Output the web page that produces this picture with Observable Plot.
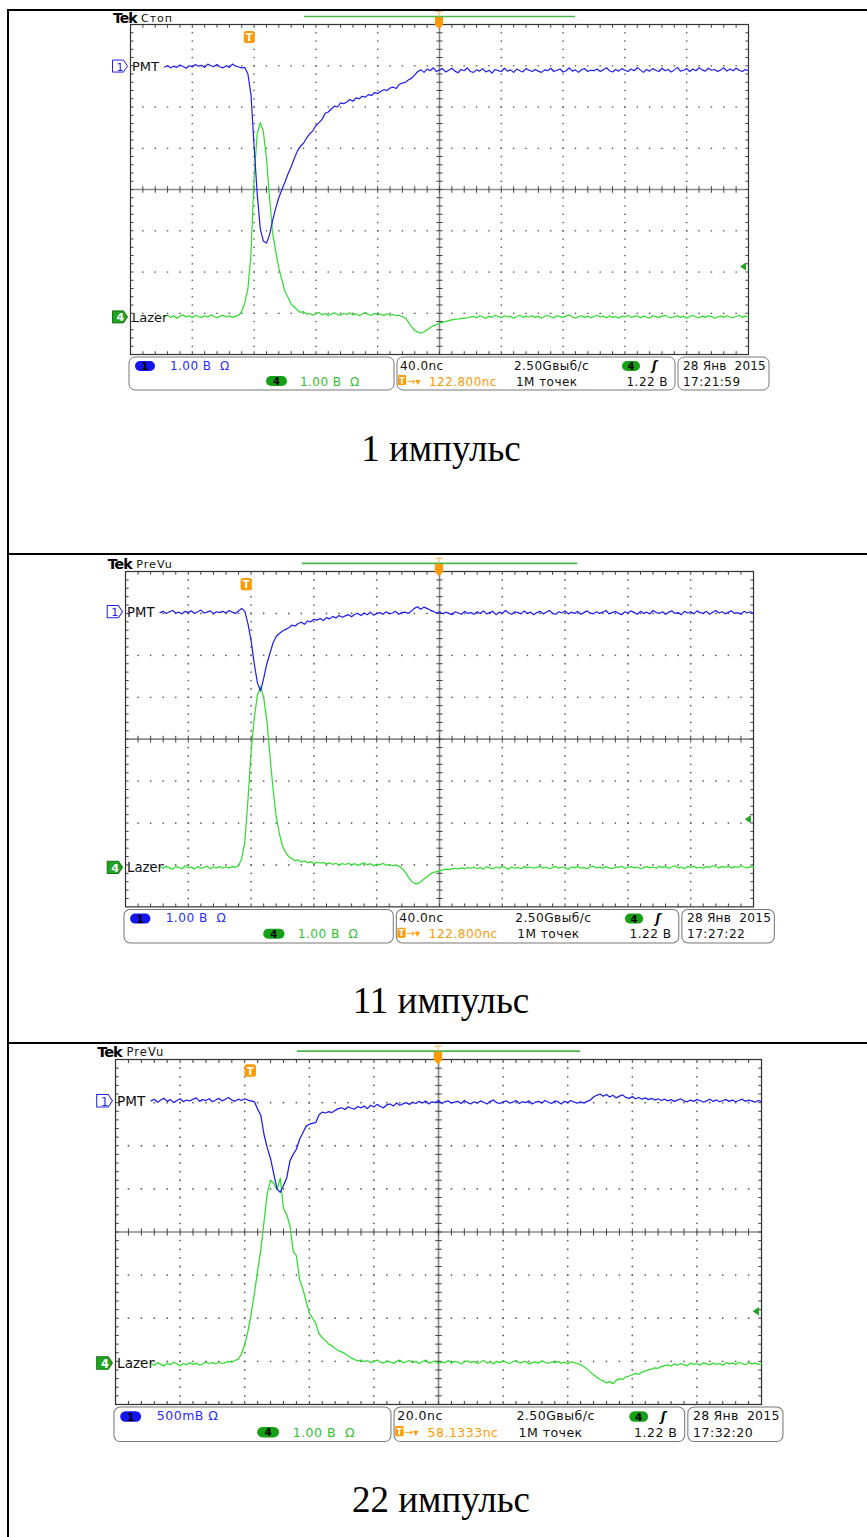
<!DOCTYPE html>
<html><head><meta charset="utf-8">
<script src="https://cdn.jsdelivr.net/npm/d3@7"></script>
<script src="https://cdn.jsdelivr.net/npm/@observablehq/plot@0.6"></script>
<style>
body{margin:0;background:#fff;}
#page{position:relative;width:867px;height:1537px;overflow:hidden;background:#fff;}
.ln{position:absolute;background:#000;}
.cap{position:absolute;left:0;width:882px;text-align:center;font-family:"Liberation Serif","Times New Roman",serif;font-size:37px;line-height:37px;color:#000;}
.scope{position:absolute;width:618px;height:330px;transform-origin:0 0;}
.scope svg{display:block;}
.scope text{white-space:pre;}
</style></head><body><div id="page"></div>
<script>
// ---------- sampled traces (divisions), x = traceStart + i*traceStep ----------
const traceStart = 0.55, traceStep = 0.05;

const pmt1 = [
2.97,3.00,2.95,2.99,2.96,3.02,2.98,2.94,3.00,2.97,3.03,2.99,3.01,2.96,3.04,3.00,2.98,3.03,2.97,2.95,
3.00,2.96,3.04,2.99,2.97,2.95,2.96,2.80,2.30,1.05,-0.10,-0.95,-1.25,-1.30,-1.10,-0.75,-0.45,-0.20,0.00,0.18,
0.38,0.55,0.75,0.93,1.05,1.12,1.25,1.35,1.42,1.55,1.62,1.70,1.85,1.88,1.95,2.02,2.00,2.10,2.08,2.12,
2.18,2.14,2.22,2.20,2.26,2.24,2.30,2.28,2.35,2.33,2.38,2.42,2.40,2.46,2.48,2.45,2.55,2.58,2.60,2.66,
2.70,2.78,2.86,2.90,2.84,2.92,2.88,2.95,2.86,2.90,2.93,2.85,2.89,2.94,2.87,2.83,2.91,2.88,2.95,2.86,
2.84,2.90,2.87,2.93,2.85,2.89,2.82,2.91,2.88,2.86,2.94,2.87,2.90,2.84,2.92,2.88,2.85,2.93,2.89,2.86,
2.91,2.87,2.84,2.90,2.88,2.94,2.86,2.89,2.92,2.85,2.88,2.95,2.87,2.90,2.84,2.91,2.93,2.86,2.89,2.88,
2.92,2.86,2.90,2.95,2.88,2.85,2.91,2.87,2.93,2.89,2.86,2.92,2.88,2.95,2.90,2.84,2.91,2.87,2.93,2.89,
2.86,2.94,2.88,2.91,2.85,2.90,2.96,2.87,2.89,2.93,2.86,2.92,2.88,2.95,2.90,2.87,2.94,2.89,2.91,2.86,
2.90,2.95,2.87,2.92,2.88,2.94,2.89,2.86,2.91,2.88];

const lazer1 = [
-3.08,-3.05,-3.10,-3.06,-3.12,-3.07,-3.04,-3.09,-3.06,-3.11,-3.05,-3.08,-3.10,-3.06,-3.09,-3.04,-3.08,-3.11,-3.07,-3.05,
-3.09,-3.06,-3.10,-3.07,-3.05,-2.95,-2.75,-2.40,-1.55,0.30,1.35,1.62,1.40,0.75,-0.20,-1.05,-1.50,-1.90,-2.20,-2.48,
-2.62,-2.78,-2.85,-2.92,-2.98,-2.96,-3.02,-3.00,-3.05,-3.01,-2.98,-3.04,-3.00,-3.06,-3.02,-2.99,-3.03,-3.05,-3.00,-3.03,
-2.99,-3.04,-3.01,-3.06,-3.02,-2.98,-3.03,-3.05,-3.00,-3.04,-3.02,-3.06,-3.01,-3.05,-3.03,-3.06,-3.05,-3.08,-3.12,-3.22,
-3.33,-3.42,-3.46,-3.48,-3.45,-3.40,-3.35,-3.30,-3.28,-3.24,-3.22,-3.20,-3.18,-3.16,-3.15,-3.14,-3.13,-3.12,-3.11,-3.09,
-3.08,-3.11,-3.06,-3.09,-3.12,-3.07,-3.10,-3.05,-3.08,-3.11,-3.06,-3.09,-3.07,-3.12,-3.08,-3.05,-3.10,-3.07,-3.09,-3.06,
-3.10,-3.07,-3.12,-3.08,-3.05,-3.09,-3.11,-3.06,-3.08,-3.10,-3.07,-3.04,-3.09,-3.12,-3.08,-3.06,-3.10,-3.07,-3.11,-3.08,
-3.05,-3.09,-3.07,-3.11,-3.06,-3.10,-3.08,-3.12,-3.07,-3.09,-3.05,-3.10,-3.08,-3.06,-3.11,-3.07,-3.09,-3.12,-3.06,-3.08,
-3.10,-3.07,-3.05,-3.09,-3.11,-3.08,-3.06,-3.10,-3.07,-3.12,-3.08,-3.05,-3.09,-3.11,-3.07,-3.10,-3.06,-3.08,-3.12,-3.09,
-3.07,-3.10,-3.06,-3.09,-3.11,-3.08,-3.05,-3.10,-3.07,-3.09];

const pmt2 = [
3.02,3.05,3.00,3.04,3.07,3.01,3.03,2.99,3.05,3.02,3.06,3.00,3.04,3.08,3.01,3.03,3.06,2.99,3.04,3.02,
3.05,3.01,3.07,3.03,3.00,3.06,3.12,3.05,2.75,2.35,1.80,1.35,1.15,1.45,1.80,2.05,2.30,2.45,2.52,2.58,
2.62,2.66,2.72,2.70,2.76,2.79,2.74,2.82,2.80,2.86,2.84,2.88,2.83,2.90,2.87,2.93,2.89,2.95,2.91,2.94,
2.97,2.92,2.98,3.00,2.95,3.01,2.97,3.03,2.96,3.00,3.02,2.98,3.04,2.99,3.01,3.05,2.98,3.02,3.03,3.00,
3.05,3.12,3.16,3.10,3.15,3.12,3.08,3.05,3.01,3.04,2.99,3.03,3.00,2.97,3.04,3.01,2.98,3.05,3.00,3.02,
2.98,3.04,3.00,3.06,2.99,3.02,3.05,2.97,3.03,3.00,3.07,3.01,2.98,3.04,3.02,2.99,3.06,3.00,3.03,2.97,
3.02,3.05,2.99,3.03,3.07,3.00,2.98,3.04,3.01,3.06,2.99,3.03,3.00,3.05,2.98,3.02,3.06,3.01,2.99,3.04,
3.00,3.03,3.07,2.99,3.02,3.05,3.00,2.97,3.04,3.01,3.06,3.02,2.98,3.05,3.00,3.03,2.99,3.07,3.02,3.00,
3.04,2.98,3.03,3.06,3.00,3.02,2.97,3.05,3.01,3.04,2.99,3.06,3.02,3.00,3.05,2.98,3.03,3.07,3.01,3.04,
2.99,3.03,3.06,3.00,3.02,2.98,3.05,3.01,3.04,3.00];

const lazer2 = [
-3.05,-3.08,-3.03,-3.07,-3.10,-3.04,-3.06,-3.09,-3.02,-3.07,-3.05,-3.10,-3.04,-3.08,-3.06,-3.03,-3.09,-3.05,-3.07,-3.04,
-3.08,-3.05,-3.07,-3.04,-3.06,-3.02,-2.85,-2.45,-1.45,-0.30,0.50,1.05,1.25,1.00,0.45,-0.40,-1.20,-1.85,-2.25,-2.55,
-2.70,-2.80,-2.85,-2.90,-2.88,-2.93,-2.90,-2.95,-2.92,-2.97,-2.93,-2.96,-2.94,-2.98,-2.95,-2.99,-2.96,-3.00,-2.97,-2.99,
-2.96,-3.00,-2.97,-3.01,-2.98,-2.95,-3.00,-2.97,-3.02,-2.98,-3.00,-2.96,-3.01,-2.99,-3.02,-3.00,-3.03,-3.08,-3.16,-3.28,
-3.38,-3.44,-3.45,-3.40,-3.34,-3.28,-3.22,-3.18,-3.16,-3.14,-3.12,-3.10,-3.11,-3.09,-3.08,-3.10,-3.07,-3.09,-3.06,-3.08,
-3.05,-3.09,-3.06,-3.10,-3.04,-3.07,-3.09,-3.05,-3.08,-3.03,-3.07,-3.10,-3.05,-3.08,-3.06,-3.09,-3.04,-3.07,-3.05,-3.08,
-3.06,-3.03,-3.08,-3.05,-3.09,-3.06,-3.04,-3.08,-3.05,-3.07,-3.10,-3.05,-3.07,-3.04,-3.08,-3.06,-3.09,-3.05,-3.03,-3.07,
-3.05,-3.08,-3.04,-3.07,-3.09,-3.05,-3.06,-3.03,-3.08,-3.06,-3.04,-3.07,-3.05,-3.09,-3.06,-3.04,-3.07,-3.05,-3.08,-3.03,
-3.06,-3.04,-3.08,-3.05,-3.02,-3.07,-3.05,-3.09,-3.04,-3.06,-3.03,-3.07,-3.05,-3.08,-3.04,-3.06,-3.02,-3.05,-3.07,-3.04,
-3.06,-3.03,-3.07,-3.04,-3.06,-3.02,-3.05,-3.07,-3.04,-3.06];

const pmt3 = [
3.04,3.08,3.01,3.06,3.10,3.03,3.07,3.00,3.05,3.09,3.02,3.06,3.04,3.08,3.11,3.03,3.07,3.05,3.09,3.02,
3.06,3.10,3.04,3.08,3.12,3.06,3.03,3.08,3.05,3.09,3.06,3.04,3.02,2.85,2.70,2.25,1.95,1.70,1.35,1.00,
0.92,1.08,1.25,1.65,1.80,1.92,2.15,2.30,2.45,2.50,2.52,2.54,2.72,2.78,2.76,2.79,2.77,2.82,2.86,2.88,
2.84,2.90,2.87,2.85,2.91,2.88,2.92,2.86,2.94,2.90,2.96,2.91,2.88,2.95,2.97,2.92,2.99,2.94,2.97,3.00,
2.96,3.01,2.98,3.03,2.99,3.04,2.97,3.02,3.00,3.05,2.98,3.02,3.04,2.99,3.01,3.03,2.98,3.05,3.00,2.97,
3.02,2.99,3.04,3.01,2.97,3.03,3.06,3.00,2.98,3.02,3.04,2.99,3.01,3.05,2.98,3.02,3.00,3.04,2.97,3.01,
3.03,2.99,3.05,3.01,2.98,3.04,3.02,2.97,3.03,3.00,3.05,3.01,2.99,3.02,2.99,3.03,3.06,3.13,3.17,3.20,
3.15,3.19,3.13,3.17,3.11,3.15,3.18,3.12,3.10,3.14,3.09,3.12,3.08,3.11,3.07,3.10,3.06,3.09,3.05,3.08,
3.04,3.07,3.03,3.06,3.09,3.04,3.02,3.06,3.03,3.07,3.05,3.01,3.04,3.08,3.03,3.06,3.02,3.05,3.07,3.03,
3.06,3.02,3.05,3.08,3.03,3.06,3.04,3.01,3.05,3.03];

const lazer3 = [
-3.05,-3.09,-3.03,-3.07,-3.11,-3.04,-3.08,-3.02,-3.06,-3.10,-3.05,-3.08,-3.03,-3.07,-3.04,-3.09,-3.06,-3.02,-3.05,-3.03,
-3.06,-3.02,-3.05,-3.03,-3.00,-3.02,-2.98,-2.95,-2.82,-2.62,-2.30,-1.90,-1.42,-0.90,-0.40,0.25,0.90,1.20,1.13,0.98,
1.25,0.55,0.40,0.15,-0.45,-0.55,-1.10,-1.32,-1.60,-1.88,-2.00,-2.12,-2.36,-2.45,-2.52,-2.60,-2.64,-2.70,-2.75,-2.78,
-2.82,-2.87,-2.92,-2.96,-2.99,-2.97,-3.01,-2.98,-3.03,-3.00,-2.97,-3.02,-3.04,-2.99,-3.01,-3.05,-3.00,-2.97,-3.03,-3.01,
-2.98,-3.03,-3.00,-3.05,-3.01,-2.97,-3.04,-3.02,-2.99,-3.06,-3.01,-3.03,-2.98,-3.04,-3.00,-3.02,-3.06,-3.01,-2.99,-3.03,
-3.00,-3.05,-3.02,-2.98,-3.04,-3.01,-3.06,-3.00,-3.03,-2.99,-3.02,-3.05,-3.01,-2.98,-3.04,-3.02,-3.00,-3.06,-3.03,-3.01,
-3.04,-2.99,-3.02,-3.05,-3.01,-3.03,-3.00,-3.04,-3.02,-3.06,-3.01,-3.03,-3.05,-3.08,-3.12,-3.18,-3.25,-3.31,-3.37,-3.42,
-3.45,-3.50,-3.47,-3.52,-3.44,-3.40,-3.42,-3.36,-3.34,-3.31,-3.28,-3.30,-3.25,-3.22,-3.20,-3.18,-3.15,-3.16,-3.12,-3.10,
-3.08,-3.11,-3.06,-3.09,-3.05,-3.08,-3.10,-3.04,-3.07,-3.05,-3.09,-3.03,-3.06,-3.08,-3.04,-3.07,-3.05,-3.09,-3.03,-3.06,
-3.04,-3.07,-3.02,-3.05,-3.08,-3.03,-3.06,-3.04,-3.07,-3.05];

// ---------- per-panel labels / settings ----------
const captions     = ["1 импульс", "11 импульс", "22 импульс"];
const titles       = ["Стоп", "PreVu", "PreVu"];
const pmtTraces    = [pmt1, pmt2, pmt3];
const lazerTraces  = [lazer1, lazer2, lazer3];
const ch1Names     = ["PMT", "PMT", "PMT"];
const ch4Names     = ["Lazer", "Lazer", "Lazer"];
const ch1Offsets   = [2.98, 3.03, 3.03];     // divisions
const ch4Offsets   = [-3.10, -3.07, -3.05];
const trigLevels   = [-1.88, -1.92, -1.85];
const ch1Scales    = ["1.00 В  Ω", "1.00 В  Ω", "500mВ Ω"];
const ch4Scales    = ["1.00 В  Ω", "1.00 В  Ω", "1.00 В  Ω"];
const timebases    = ["40.0nс", "40.0nс", "20.0nс"];
const timeDivNs    = [40, 40, 20];
const trigDelayNs  = [122.8, 122.8, 58.1333];
const trigDelays   = ["122.800nс", "122.800nс", "58.1333nс"];
const sampleRates  = ["2.50Gвыб/с", "2.50Gвыб/с", "2.50Gвыб/с"];
const recordLens   = ["1M точек", "1M точек", "1M точек"];
const trigVolts    = ["1.22 В", "1.22 В", "1.22 В"];
const dates        = ["28 Янв  2015", "28 Янв  2015", "28 Янв  2015"];
const times        = ["17:21:59", "17:27:22", "17:32:20"];

// ---------- layout ----------
const scopeLeft  = [130, 125, 115];
const scopeTop   = [24, 571, 1059];
const scopeWidth = [618, 628, 646];
const markerTop  = [7, 7, 5];
const capTop     = [430, 982, 1481];

const W = 618, H = 330;
const xPos = v => v / 10 * W, yPos = v => (4 - v) / 8 * H;

const page = document.getElementById("page");
function addLine(l, t, w, h) {
  const d = document.createElement("div"); d.className = "ln";
  Object.assign(d.style, {left: l + "px", top: t + "px", width: w + "px", height: h + "px"});
  page.appendChild(d);
}
addLine(7, 9, 860, 2);
addLine(7, 9, 1.5, 1528);
addLine(7, 553, 860, 2);
addLine(7, 1042, 860, 2);

// graticule helpers
const gridDots = [];
for (let i = 1; i < 10; i++) if (i !== 5) for (let k = 1; k < 40; k++) gridDots.push({x: i, y: -4 + k * 0.2});
for (let j = -3; j <= 3; j++) if (j !== 0) for (let k = 1; k < 50; k++) gridDots.push({x: k * 0.2, y: j});
const tickLinks = [];
for (let k = 1; k < 50; k++) {
  const x = k * 0.2;
  tickLinks.push({x1: x, x2: x, y1: -0.08, y2: 0.08});
  tickLinks.push({x1: x, x2: x, y1: 4, y2: 3.92});
  tickLinks.push({x1: x, x2: x, y1: -4, y2: -3.92});
}
for (let k = 1; k < 40; k++) {
  const y = -4 + k * 0.2;
  tickLinks.push({x1: 4.95, x2: 5.05, y1: y, y2: y});
  tickLinks.push({x1: 0, x2: 0.05, y1: y, y2: y});
  tickLinks.push({x1: 10, x2: 9.95, y1: y, y2: y});
}

const toPts = arr => arr.map((v, i) => ({x: traceStart + i * traceStep, y: v}));

function overlay(i) {
  const y1 = yPos(ch1Offsets[i]), y4 = yPos(ch4Offsets[i]), yT = yPos(trigLevels[i]);
  const tx = xPos(5 - trigDelayNs[i] / timeDivNs[i]);
  const ty = markerTop[i];
  const F = 'font-family="DejaVu Sans, sans-serif"';
  const S = 'font-size="12" letter-spacing="0.45"';
  return `<svg width="740" height="430" viewBox="-50 -30 740 430" style="position:absolute;left:-50px;top:-30px;overflow:visible">
  <text x="-17" y="-1.5" ${F} font-size="14" font-weight="bold" letter-spacing="-1" fill="#000">Tek</text>
  <text x="11" y="-2.5" ${F} font-size="11" letter-spacing="1" fill="#111">${titles[i]}</text>
  <line x1="174" x2="445" y1="-7.5" y2="-7.5" stroke="#4cb84c" stroke-width="1.6"/>
  <path d="M305.5,-12.5h7M309,-12.5v5" stroke="#ffb04a" stroke-width="1" fill="none"/>
  <path d="M305,-7h8v8l-4,4l-4,-4z" fill="#ff9a00"/>
  <rect x="${tx - 5.5}" y="${ty}" width="11" height="12" rx="2.5" fill="#ff9a00"/>
  <text x="${tx}" y="${ty + 10}" ${F} font-size="10" font-weight="bold" fill="#fff" text-anchor="middle">T</text>
  <path d="M-17.5,${y1 - 6}h11l4,6l-4,6h-11z" fill="#fff" stroke="#2424e8" stroke-width="1"/>
  <text x="-13.5" y="${y1 + 4.5}" ${F} font-size="11" fill="#2424e8">1</text>
  <text x="2" y="${y1 + 5}" ${F} font-size="13" fill="#111">${ch1Names[i]}</text>
  <path d="M-17.5,${y4 - 6}h11l4,6l-4,6h-11z" fill="#22a322" stroke="#137513" stroke-width="1"/>
  <text x="-13.5" y="${y4 + 4.5}" ${F} font-size="11" font-weight="bold" fill="#fff">4</text>
  <text x="2" y="${y4 + 5}" ${F} font-size="13" fill="#111">${ch4Names[i]}</text>
  <path d="M610,${yT}l6,-4v8z" fill="#22a322"/>
  <rect x="-1" y="333" width="265" height="33" rx="6" fill="#fff" stroke="#777"/>
  <rect x="267" y="333" width="278" height="33" rx="6" fill="#fff" stroke="#777"/>
  <rect x="548" y="333" width="91" height="33" rx="6" fill="#fff" stroke="#777"/>
  <rect x="5" y="337" width="20" height="10" rx="5" fill="#1414ee"/>
  <text x="15" y="346" ${F} font-size="10" font-weight="bold" fill="#000" text-anchor="middle">1</text>
  <text x="40" y="345.5" ${F} ${S} fill="#2b2bff">${ch1Scales[i]}</text>
  <rect x="136" y="352" width="21" height="10" rx="5" fill="#15a015"/>
  <text x="146.5" y="361" ${F} font-size="10" font-weight="bold" fill="#000" text-anchor="middle">4</text>
  <text x="170" y="361.5" ${F} ${S} fill="#2fbf2f">${ch4Scales[i]}</text>
  <text x="270" y="345.5" ${F} ${S} fill="#111">${timebases[i]}</text>
  <text x="384" y="345.5" ${F} ${S} fill="#111">${sampleRates[i]}</text>
  <rect x="492" y="337" width="18" height="10" rx="5" fill="#15a015"/>
  <text x="501" y="346" ${F} font-size="10" font-weight="bold" fill="#000" text-anchor="middle">4</text>
  <text x="522" y="346" ${F} font-size="12" font-weight="bold" font-style="italic" fill="#000">ʃ</text>
  <rect x="268" y="351" width="8" height="10" rx="1" fill="#ff9a00"/>
  <text x="272" y="359.5" ${F} font-size="8" font-weight="bold" fill="#fff" text-anchor="middle">T</text>
  <text x="277" y="360.5" ${F} font-size="10" fill="#ff9a00">→▾</text>
  <text x="299" y="361.5" ${F} ${S} fill="#ff9a00">${trigDelays[i]}</text>
  <text x="386" y="361.5" ${F} ${S} fill="#111">${recordLens[i]}</text>
  <text x="538" y="361.5" ${F} ${S} fill="#111" text-anchor="end">${trigVolts[i]}</text>
  <text x="553" y="345.5" ${F} font-size="12" letter-spacing="0.2" fill="#111">${dates[i]}</text>
  <text x="553" y="361.5" ${F} ${S} fill="#111">${times[i]}</text>
  </svg>`;
}

for (let i = 0; i < 3; i++) {
  const s = scopeWidth[i] / W;
  const wrap = document.createElement("div");
  wrap.className = "scope";
  wrap.style.left = scopeLeft[i] + "px";
  wrap.style.top = scopeTop[i] + "px";
  wrap.style.transform = `scale(${s})`;
  const chart = Plot.plot({
    width: W, height: H, margin: 0,
    x: {domain: [0, 10], axis: null},
    y: {domain: [-4, 4], axis: null},
    style: {overflow: "visible", background: "transparent"},
    marks: [
      Plot.dot(gridDots, {x: "x", y: "y", r: 0.85, fill: "#5e5e5e"}),
      Plot.ruleX([5], {stroke: "#8a8a8a", strokeWidth: 1.6}),
      Plot.ruleY([0], {stroke: "#8a8a8a", strokeWidth: 1.6}),
      Plot.link(tickLinks, {x1: "x1", x2: "x2", y1: "y1", y2: "y2", stroke: "#444", strokeWidth: 1}),
      Plot.frame({stroke: "#333", strokeWidth: 1.2}),
      Plot.line(toPts(lazerTraces[i]), {x: "x", y: "y", stroke: "#2edc2e", strokeWidth: 1.2}),
      Plot.line(toPts(pmtTraces[i]), {x: "x", y: "y", stroke: "#1d1df0", strokeWidth: 1.2})
    ]
  });
  wrap.appendChild(chart);
  wrap.insertAdjacentHTML("beforeend", overlay(i));
  page.appendChild(wrap);

  const c = document.createElement("div");
  c.className = "cap";
  c.style.top = capTop[i] + "px";
  c.textContent = captions[i];
  page.appendChild(c);
}
</script></body></html>
